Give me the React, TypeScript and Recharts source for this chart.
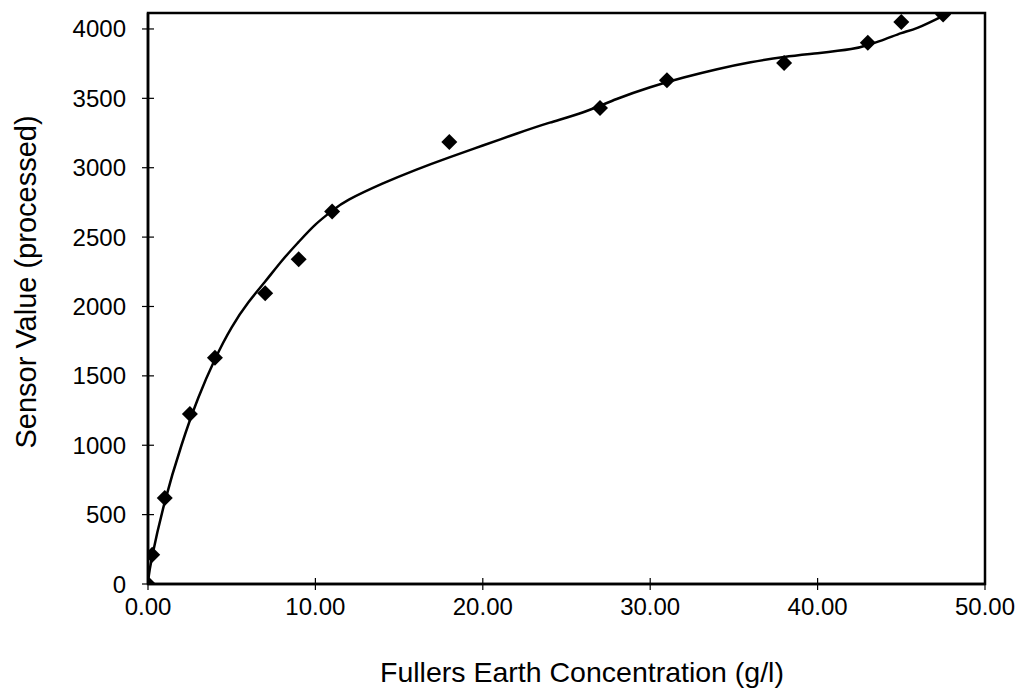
import {
  ComposedChart,
  Scatter,
  Line,
  XAxis,
  YAxis,
  ReferenceArea,
} from "recharts";

// measured points (g/l vs processed sensor value)
const concentration = [0, 0.25, 1, 2.5, 4, 7, 9, 11, 18, 27, 31, 38, 43, 45, 47.5];
const sensorValue = [0, 210, 620, 1225, 1630, 2095, 2340, 2685, 3185, 3430, 3630, 3755, 3900, 4050, 4105];

// trend line
const fitX = [0, 0.25, 1, 2, 3, 4, 5, 6, 7, 8, 9, 10, 11, 12, 14, 16, 18, 20, 22, 24, 26, 28, 30, 32, 34, 36, 38, 40, 42, 43, 44, 45, 46, 47.5];
const fitY = [20, 200, 590, 1000, 1340, 1620, 1850, 2030, 2180, 2330, 2465, 2590, 2690, 2770, 2885, 2985, 3075, 3160, 3245, 3325, 3400, 3495, 3580, 3650, 3710, 3760, 3798, 3825, 3855, 3885, 3925, 3970, 4010, 4095];

const xTicks = [0, 10, 20, 30, 40, 50];
const yTicks = [0, 500, 1000, 1500, 2000, 2500, 3000, 3500, 4000];
const Y_MAX = 4115;

const points = concentration.map((x, i) => ({ x, y: sensorValue[i] }));
const fit = fitX.map((x, i) => ({ x, y: fitY[i] }));

const FONT = "'Liberation Sans', Arial, sans-serif";
const W = 1019;
const H = 687;

const Diamond = (props: any) => {
  const { cx, cy } = props;
  const r = 8;
  return (
    <path
      d={`M${cx},${cy - r} L${cx + r},${cy} L${cx},${cy + r} L${cx - r},${cy} Z`}
      fill="#000"
    />
  );
};

const YTick = (props: any) => {
  const { x, y, payload } = props;
  return (
    <g>
      <line x1={x - 6} x2={x + 6} y1={y} y2={y} stroke="#000" strokeWidth={1.2} />
      <text x={x - 22} y={y + 8.5} textAnchor="end" fontSize={24} fontFamily={FONT} fill="#000">
        {payload.value}
      </text>
    </g>
  );
};

const XTick = (props: any) => {
  const { x, y, payload } = props;
  return (
    <g>
      <line x1={x} x2={x} y1={y - 6} y2={y + 6} stroke="#000" strokeWidth={1.2} />
      <text x={x} y={y + 31} textAnchor="middle" fontSize={24} fontFamily={FONT} fill="#000">
        {payload.value.toFixed(2)}
      </text>
    </g>
  );
};

export default function App() {
  return (
    <div style={{ position: "relative", width: W, height: H }}>
      <ComposedChart
        width={W}
        height={H}
        margin={{ top: 5, right: 42, bottom: 0, left: 0 }}
      >
        <XAxis
          dataKey="x"
          type="number"
          domain={[0, 50]}
          ticks={xTicks}
          height={111}
          tickSize={0}
          tickMargin={0}
          tickLine={false}
          axisLine={{ stroke: "#000", strokeWidth: 2.5 }}
          tick={<XTick />}
          allowDataOverflow
        />
        <YAxis
          dataKey="y"
          type="number"
          domain={[0, Y_MAX]}
          ticks={yTicks}
          width={140}
          tickSize={0}
          tickMargin={0}
          tickLine={false}
          axisLine={{ stroke: "#000", strokeWidth: 2.5 }}
          tick={<YTick />}
          allowDataOverflow
        />
        <ReferenceArea
          x1={0}
          x2={50}
          y1={0}
          y2={Y_MAX}
          fill="none"
          stroke="#000"
          strokeWidth={2.5}
          fillOpacity={0}
        />
        <Line
          data={fit}
          dataKey="y"
          type="natural"
          stroke="#000"
          strokeWidth={2.5}
          dot={false}
          activeDot={false}
          isAnimationActive={false}
        />
        <Scatter
          data={points}
          dataKey="y"
          fill="#000"
          shape={<Diamond />}
          isAnimationActive={false}
        />
      </ComposedChart>
      <svg
        width={W}
        height={H}
        style={{ position: "absolute", left: 0, top: 0, pointerEvents: "none", overflow: "visible" }}
      >
        <text x={574} y={674} textAnchor="middle" fontSize={28.5} fontFamily={FONT} fill="#000">
          Fullers Earth Concentration (g/l)
        </text>
        <text
          x={28}
          y={274}
          textAnchor="middle"
          fontSize={29}
          fontFamily={FONT}
          fill="#000"
          transform="rotate(-90 28 274)"
        >
          Sensor Value (processed)
        </text>
      </svg>
    </div>
  );
}
